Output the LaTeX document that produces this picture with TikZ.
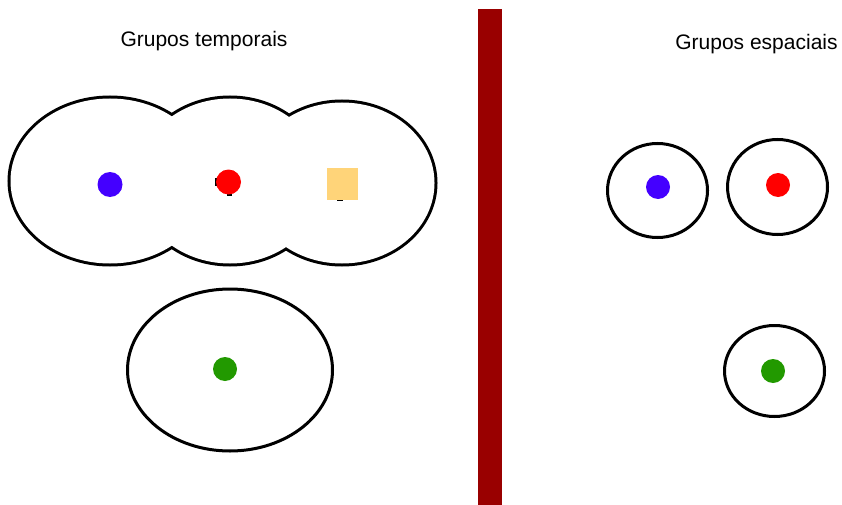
\documentclass[tikz,border=0pt]{standalone}
\usepackage{fontspec}
\setmainfont{Liberation Sans}
\definecolor{barred}{HTML}{990000}
\definecolor{dotblue}{HTML}{4400FF}
\definecolor{dotred}{HTML}{FF0000}
\definecolor{dotgreen}{HTML}{229900}
\definecolor{sqyellow}{HTML}{FFD479}
\begin{document}
\begin{tikzpicture}[x=1pt,y=-1pt,
  outline/.style={line width=3pt},
  dot/.style={circle,inner sep=0pt,minimum size=25pt},
  title/.style={font=\fontsize{21}{24}\selectfont}]
\useasboundingbox (0,0) rectangle (842,505);
\fill[white] (0,0) rectangle (842,505);
% union of three ellipses
\foreach \cx/\cy/\rx/\ry in {110/181/99.5/82.5, 230/181/93.5/82.5, 342/183/92.5/80.5}
  \draw[line width=6pt] (\cx,\cy) ellipse [x radius=\rx, y radius=\ry];
\foreach \cx/\cy/\rx/\ry in {110/181/99.5/82.5, 230/181/93.5/82.5, 342/183/92.5/80.5}
  \fill[white] (\cx,\cy) ellipse [x radius=\rx, y radius=\ry];
% lower left ellipse
\draw[outline] (230,370) ellipse [x radius=102.5, y radius=81];
% right circles
\draw[outline] (657.5,190.5) ellipse [x radius=50, y radius=47];
\draw[outline] (777.5,187) ellipse [x radius=50, y radius=47.5];
\draw[outline] (774.5,371) ellipse [x radius=50, y radius=45.5];
% bar
\fill[barred] (478,9) rectangle (502,505);
% titles
\node[title] (t1) at (204,41) {Grupos temporais};
\node[title] (t2) at (756.5,44) {Grupos espaciais};
% small marks
\fill (214.5,178) rectangle (217.5,186);
\fill (227,192) rectangle (232,196);
\fill (337,198) rectangle (343,201);
% dots
\node[dot,fill=dotblue] (b1) at (110,184.5) {};
\node[dot,fill=dotred] (r1) at (228.5,182) {};
\node[fill=sqyellow,inner sep=0pt,minimum width=31pt,minimum height=32pt] (y1) at (342.5,184) {};
\node[dot,fill=dotgreen,minimum size=24pt] (g1) at (225,369) {};
\node[dot,fill=dotblue,minimum size=24pt] (b2) at (658,187) {};
\node[dot,fill=dotred,minimum size=24pt] (r2) at (778,185) {};
\node[dot,fill=dotgreen,minimum size=24pt] (g2) at (773,371) {};
\end{tikzpicture}
\end{document}
